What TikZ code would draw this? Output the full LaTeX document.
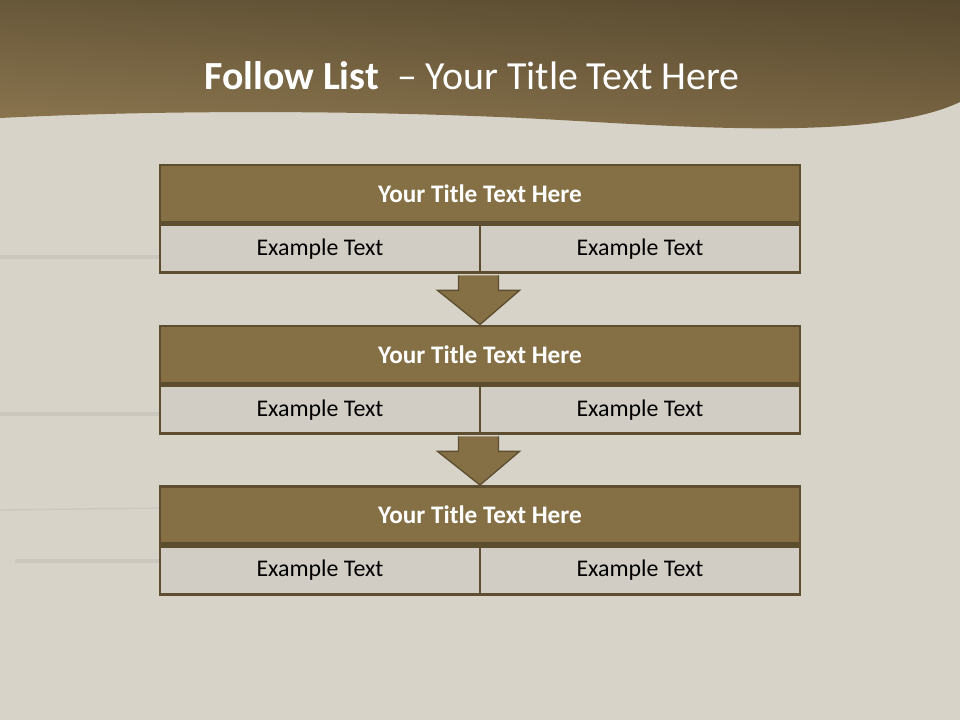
\documentclass[tikz,border=0pt]{standalone}
\usepackage{fontspec}
\setmainfont{Carlito}
\usepackage{xcolor}
\usetikzlibrary{calc, positioning, shadings}

\definecolor{bgtex}{RGB}{215,211,201}
\definecolor{seam}{RGB}{202,199,191}
\definecolor{hdrUL}{RGB}{104,88,58}
\definecolor{hdrUR}{RGB}{86,72,46}
\definecolor{hdrLL}{RGB}{143,121,81}
\definecolor{hdrLR}{RGB}{124,104,69}
\definecolor{barfill}{RGB}{133,112,70}
\definecolor{barline}{RGB}{94,78,48}
\definecolor{cellfill}{RGB}{210,205,196}

\def\pu{0.26458mm}

\begin{document}
\begin{tikzpicture}[
    x=\pu, y=-\pu,
    ttl/.style  = {rectangle, draw=barline, line width=2.2pt, fill=barfill,
                   minimum width=640*\pu, minimum height=57*\pu,
                   inner sep=0pt, text=white, font=\fontsize{19}{21}\selectfont\bfseries},
    cell/.style = {rectangle, draw=barline, line width=2.2pt, fill=cellfill,
                   minimum width=320*\pu, minimum height=48*\pu,
                   inner sep=0pt, text=black, font=\fontsize{18}{20}\selectfont},
    darr/.style = {draw=barline, line width=1pt, fill=barfill, line join=miter}
  ]
  % page and header band
  \fill[bgtex] (0,0) rectangle (960,720);
  \useasboundingbox (0,0) rectangle (960,720);
  \draw[seam, line width=3pt] (0,257) -- (160,257);
  \draw[seam, line width=3pt] (0,414) -- (160,414);
  \draw[seam, line width=1pt] (0,510) -- (160,508);
  \draw[seam, line width=3pt] (15,561) -- (160,561);
  \shade[upper left=hdrUL, upper right=hdrUR, lower left=hdrLL, lower right=hdrLR]
    (0,0) -- (0,118) .. controls (200,108) and (420,112) .. (560,120)
    .. controls (700,128) and (880,140) .. (960,102) -- (960,0) -- cycle;
  \node[text=white, font=\fontsize{30}{33}\selectfont] (head) at (472,76)
    {\textbf{Follow List}~ -- Your Title Text Here};

  % first block
  \node[ttl] (t1) at (480,193.5) {Your Title Text Here};
  \node[cell, anchor=north west] (l1) at (t1.south west) {Example Text};
  \node[cell, anchor=north east] (r1) at (t1.south east) {Example Text};

  % second block
  \node[ttl] (t2) at (480,354.5) {Your Title Text Here};
  \node[cell, anchor=north west] (l2) at (t2.south west) {Example Text};
  \node[cell, anchor=north east] (r2) at (t2.south east) {Example Text};

  % third block
  \node[ttl] (t3) at (480,515) {Your Title Text Here};
  \node[cell, anchor=north west] (l3) at (t3.south west) {Example Text};
  \node[cell, anchor=north east] (r3) at (t3.south east) {Example Text};

  % block arrows
  \filldraw[darr] ($(r1.south west)+(-20,1)$) -- ($(r1.south west)+(-20,16)$)
    -- ($(r1.south west)+(-41,16)$) -- (t2.north)
    -- ($(r1.south west)+(41,16)$) -- ($(r1.south west)+(20,16)$)
    -- ($(r1.south west)+(20,1)$);
  \filldraw[darr] ($(r2.south west)+(-20,1)$) -- ($(r2.south west)+(-20,16)$)
    -- ($(r2.south west)+(-41,16)$) -- (t3.north)
    -- ($(r2.south west)+(41,16)$) -- ($(r2.south west)+(20,16)$)
    -- ($(r2.south west)+(20,1)$);
\end{tikzpicture}
\end{document}
